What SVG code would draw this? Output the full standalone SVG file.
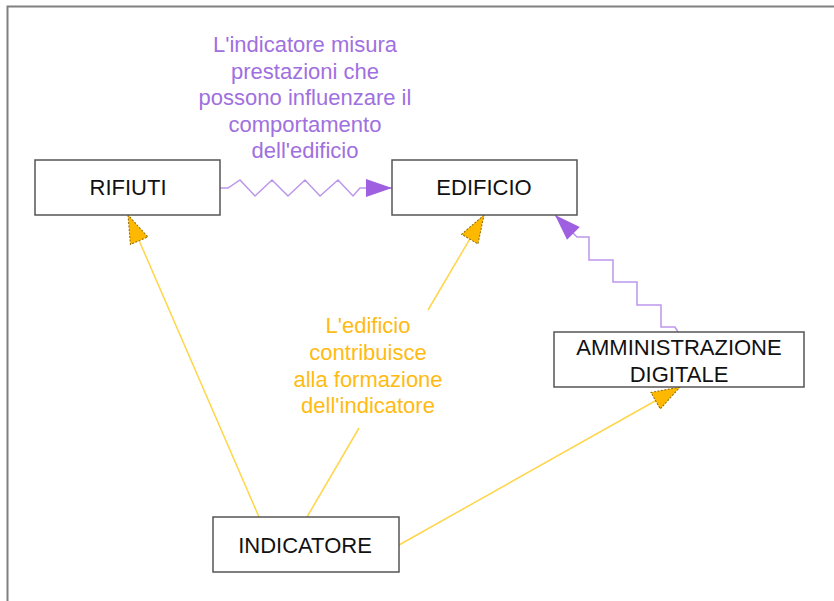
<svg xmlns="http://www.w3.org/2000/svg" width="834" height="601" viewBox="0 0 834 601">
  <style>
    .node rect { fill: #ffffff; stroke: #555555; stroke-width: 1.5; }
    .node text { font-family: "Liberation Sans", Arial, sans-serif; font-size: 22px; fill: #111111; text-anchor: middle; }
    .lbl-p { font-family: "Liberation Sans", Arial, sans-serif; font-size: 22px; fill: #A070E0; text-anchor: middle; }
    .lbl-y { font-family: "Liberation Sans", Arial, sans-serif; font-size: 22px; fill: #FFBB11; text-anchor: middle; }
    .ylw { fill: none; stroke: #FFD54A; stroke-width: 1.5; }
    .prp { fill: none; stroke: #BC96EC; stroke-width: 1.5; stroke-linejoin: miter; }
  </style>
  <defs>
    <marker id="ay" markerUnits="userSpaceOnUse" markerWidth="32" markerHeight="24" viewBox="-31 -12 32 24" refX="0" refY="0" orient="auto">
      <path d="M0,0 L-28,-9.5 L-28,9.5 Z" fill="#FFB800" stroke="#8A6A00" stroke-width="1" stroke-dasharray="2,1.5"/>
    </marker>
    <marker id="ap" markerUnits="userSpaceOnUse" markerWidth="32" markerHeight="24" viewBox="-31 -12 32 24" refX="0" refY="0" orient="auto">
      <path d="M0,0 L-26,-9 L-26,9 Z" fill="#9E60E0"/>
    </marker>
  </defs>
  <rect width="834" height="601" fill="#ffffff"/>
  <path d="M7.5,601 V6.5 H834" fill="none" stroke="#808080" stroke-width="2"/>

  <g id="connectors">
    <line class="ylw" x1="259" y1="517" x2="128" y2="215" marker-end="url(#ay)"/>
    <line class="ylw" x1="307" y1="517" x2="359" y2="428"/>
    <line class="ylw" x1="428" y1="310" x2="484" y2="215" marker-end="url(#ay)"/>
    <line class="ylw" x1="399" y1="545" x2="680" y2="387" marker-end="url(#ay)"/>
    <path class="prp" d="M220,188 L228,188 L240,180 L255,196 L272,180 L288,196 L305,180 L320,196 L338,180 L353,196 L360,188 L392,188" marker-end="url(#ap)"/>
    <path class="prp" d="M678,332 L675,327 L661,327 L661,305 L637,305 L637,282 L613,282 L613,260 L589,260 L589,237 L577,237 L555,215" marker-end="url(#ap)"/>
    <g id="label-misura">
      <text class="lbl-p" x="305" y="52">L'indicatore misura</text>
      <text class="lbl-p" x="305" y="79">prestazioni che</text>
      <text class="lbl-p" x="305" y="105">possono influenzare il</text>
      <text class="lbl-p" x="305" y="132">comportamento</text>
      <text class="lbl-p" x="305" y="158">dell'edificio</text>
    </g>
    <g id="label-contribuisce">
      <text class="lbl-y" x="368" y="333">L'edificio</text>
      <text class="lbl-y" x="368" y="360">contribuisce</text>
      <text class="lbl-y" x="368" y="387">alla formazione</text>
      <text class="lbl-y" x="368" y="413">dell'indicatore</text>
    </g>
  </g>

  <g id="rifiuti" class="node">
    <rect x="35" y="160" width="185" height="55"/>
    <text x="128" y="195">RIFIUTI</text>
  </g>
  <g id="edificio" class="node">
    <rect x="392" y="160" width="185" height="55"/>
    <text x="484" y="195">EDIFICIO</text>
  </g>
  <g id="amministrazione" class="node">
    <rect x="554" y="332" width="250" height="55"/>
    <text x="679" y="355">AMMINISTRAZIONE</text>
    <text x="679" y="382">DIGITALE</text>
  </g>
  <g id="indicatore" class="node">
    <rect x="213" y="517" width="186" height="55"/>
    <text x="305" y="553">INDICATORE</text>
  </g>
</svg>
